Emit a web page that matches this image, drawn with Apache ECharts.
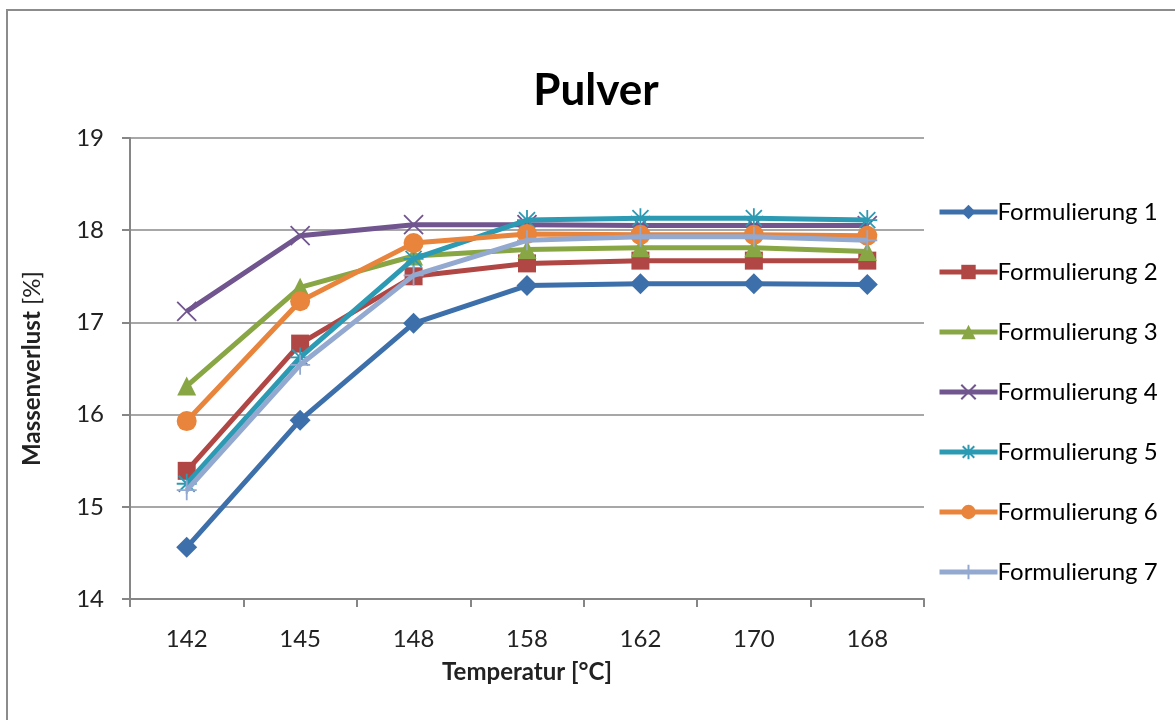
<!DOCTYPE html>
<html>
<head>
<meta charset="utf-8">
<script src="https://cdn.jsdelivr.net/npm/echarts@6/dist/echarts.min.js"></script>
<style>html,body{margin:0;padding:0;background:#fff;}#c{width:1175px;height:720px;}</style>
</head>
<body>
<div id="c"></div>
<script>
const categories = ['142', '145', '148', '158', '162', '170', '168'];
const seriesNames = ['Formulierung 1', 'Formulierung 2', 'Formulierung 3', 'Formulierung 4', 'Formulierung 5', 'Formulierung 6', 'Formulierung 7'];
const f1 = [14.56, 15.94, 16.99, 17.40, 17.42, 17.42, 17.41];
const f2 = [15.39, 16.77, 17.50, 17.64, 17.67, 17.67, 17.67];
const f3 = [16.31, 17.38, 17.72, 17.79, 17.81, 17.81, 17.77];
const f4 = [17.12, 17.94, 18.06, 18.06, 18.05, 18.05, 18.05];
const f5 = [15.25, 16.62, 17.69, 18.11, 18.13, 18.13, 18.11];
const f6 = [15.93, 17.23, 17.86, 17.96, 17.95, 17.95, 17.94];
const f7 = [15.18, 16.54, 17.51, 17.89, 17.93, 17.93, 17.89];
const values = [f1, f2, f3, f4, f5, f6, f7];
const colors = ['#3D70AA', '#B14744', '#88A644', '#71558F', '#2C9AB3', '#E8843B', '#93A9CF'];

const FONT = 'Lato';
const symbols = [
  {symbol: 'diamond', size: 21, stroke: false},
  {symbol: 'rect', size: 18, stroke: false},
  {symbol: 'triangle', size: 19, stroke: false},
  {symbol: 'path://M0,0L20,20M20,0L0,20', size: 19, stroke: true},
  {symbol: 'path://M0,10L20,10M10,0L10,20M2,2L18,18M18,2L2,18', size: 20, stroke: true},
  {symbol: 'circle', size: 20, stroke: false},
  {symbol: 'path://M0,10L20,10M10,0L10,20', size: 20, stroke: true}
];

const series = values.map((v, i) => ({
  name: seriesNames[i],
  type: 'line',
  data: v,
  symbol: symbols[i].symbol,
  symbolSize: symbols[i].size,
  showAllSymbol: true,
  lineStyle: {color: colors[i], width: 5},
  itemStyle: symbols[i].stroke
    ? {color: colors[i], borderColor: colors[i], borderWidth: 1.8}
    : {color: colors[i], borderWidth: 0},
  emphasis: {disabled: true},
  z: 2 + i
}));

const chart = echarts.init(document.getElementById('c'), null, {renderer: 'canvas'});
chart.setOption({
  animation: false,
  backgroundColor: '#fff',
  graphic: [{
    type: 'rect',
    shape: {x: 7, y: 10, width: 1200, height: 760},
    style: {fill: 'none', stroke: '#8c8c8c', lineWidth: 2},
    silent: true
  }],
  title: {
    text: 'Pulver',
    left: 591, textAlign: 'center',
    top: 64,
    textStyle: {fontFamily: FONT, fontWeight: 'bold', fontSize: 44, color: '#000'}
  },
  legend: {
    orient: 'vertical',
    left: 932, top: 194,
    itemWidth: 58, itemHeight: 18,
    itemGap: 34,
    data: seriesNames,
    lineStyle: {width: 5},
    textStyle: {fontFamily: FONT, fontSize: 24, color: '#000', lineHeight: 26, padding: [0, 0, 0, -5]}
  },
  grid: {left: 130, right: 251, top: 138, bottom: 121},
  xAxis: {
    type: 'category',
    data: categories,
    boundaryGap: true,
    name: 'Temperatur [°C]',
    nameLocation: 'middle',
    nameGap: 61,
    nameTextStyle: {fontFamily: FONT, fontWeight: 'bold', fontSize: 24, color: '#222'},
    axisLine: {lineStyle: {color: '#868686', width: 2}},
    axisTick: {show: true, length: 8, alignWithLabel: false, lineStyle: {color: '#868686', width: 2}},
    axisLabel: {fontFamily: FONT, fontSize: 24, color: '#222', margin: 28},
    splitLine: {show: false}
  },
  yAxis: {
    type: 'value',
    min: 14, max: 19, interval: 1,
    name: '{b|Massenverlust} [%]',
    nameLocation: 'middle',
    nameGap: 86,
    nameRotate: 90,
    nameTextStyle: {fontFamily: FONT, fontSize: 24, color: '#222', rich: {b: {fontFamily: FONT, fontWeight: 'bold', fontSize: 24, color: '#222'}}},
    axisLine: {show: true, lineStyle: {color: '#868686', width: 2}},
    axisTick: {show: true, length: 8, lineStyle: {color: '#868686', width: 2}},
    axisLabel: {fontFamily: FONT, fontSize: 24, color: '#222', margin: 26},
    splitLine: {show: true, lineStyle: {color: '#8a8a8a', width: 1.5}}
  },
  series: series
});
</script>
</body>
</html>
